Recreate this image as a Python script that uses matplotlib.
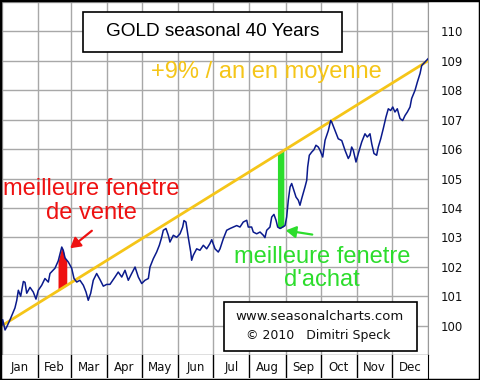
import numpy as np
import matplotlib
matplotlib.use("Agg")
import matplotlib.pyplot as plt
from matplotlib.patches import Rectangle, FancyArrowPatch

# seasonal curve, day of year vs index value
days = [0, 0.6, 2.6, 4.0, 6.9, 11.1, 12.6, 14.0, 16.0, 18.3, 19.7, 21.2, 24.0, 26.8, 29.1,
        31.1, 34.0, 36.8, 39.7, 41.1, 45.4, 48.2, 51.2, 52.5, 54.0, 56.8, 59.7, 61.7, 64.0,
        66.8, 69.7, 72.0, 73.9, 76.0, 78.2, 81.1, 84.0, 86.8, 89.7, 92.5, 96.8, 99.6, 102.6,
        105.4, 108.2, 111.1, 114.0, 116.8, 119.7, 122.5, 125.4, 126.8, 129.6, 132.5, 134.8,
        136.8, 138.2, 140.5, 142.5, 143.9, 146.8, 149.7, 152.5, 154.8, 155.9, 157.6, 159.6,
        161.7, 162.5, 163.9, 166.8, 169.6, 172.5, 175.4, 178.2, 179.7, 182.5, 185.3, 186.8,
        189.6, 192.5, 195.4, 198.2, 201.1, 203.9, 206.7, 209.7, 211.0, 213.9, 215.3, 218.2,
        221.1, 223.9, 225.3, 226.8, 229.6, 231.1, 233.0, 234.8, 236.2, 238.2, 240.5, 242.5,
        243.9, 245.3, 246.8, 248.2, 249.6, 251.9, 253.9, 255.3, 256.8, 259.6, 261.1, 261.9,
        263.3, 265.4, 267.3, 269.0, 271.0, 272.5, 274.8, 276.8, 279.6, 281.6, 282.5, 285.3,
        288.1, 291.1, 293.9, 296.7, 298.2, 299.6, 301.0, 303.3, 305.3, 308.2, 311.0, 313.0,
        315.3, 316.8, 318.7, 321.0, 322.4, 324.5, 326.7, 329.0, 331.0, 333.0, 334.8, 336.7,
        338.7, 341.0, 343.3, 345.3, 347.3, 349.6, 351.0, 353.9, 355.9, 358.2, 359.6, 361.0,
        363.3, 365.0]
values = [100.0, 100.2, 99.85, 99.95, 100.2, 100.6, 100.85, 101.2, 101.0, 101.5, 101.47, 101.1,
          101.3, 101.14, 100.9, 101.2, 101.37, 101.6, 101.48, 101.77, 101.95, 102.2, 102.67,
          102.56, 102.3, 102.16, 101.95, 101.6, 101.48, 101.54, 101.37, 101.14, 100.86, 101.1,
          101.54, 101.77, 101.56, 101.34, 101.4, 101.4, 101.65, 101.82, 101.65, 101.88, 101.54,
          101.77, 101.99, 101.65, 101.43, 101.54, 101.6, 101.99, 102.27, 102.5, 102.73, 103.0,
          103.24, 103.3, 103.07, 102.84, 103.07, 103.0, 103.12, 103.35, 103.57, 103.52, 103.0,
          102.5, 102.22, 102.39, 102.61, 102.56, 102.73, 102.61, 102.79, 102.92, 102.61, 102.5,
          102.61, 102.95, 103.24, 103.3, 103.35, 103.4, 103.35, 103.52, 103.58, 103.35, 103.35,
          103.18, 103.12, 103.18, 103.07, 102.99, 103.24, 103.35, 103.69, 103.78, 103.58,
          103.35, 103.3, 103.35, 103.4, 103.69, 104.26, 104.71, 104.83, 104.66, 104.37, 104.26,
          104.09, 104.32, 104.71, 104.94, 105.39, 105.79, 105.9, 105.98, 106.13, 106.07, 105.96,
          105.73, 106.3, 106.63, 106.97, 106.92, 106.63, 106.35, 106.29, 105.96, 105.68, 105.79,
          106.07, 105.96, 105.56, 105.85, 106.24, 106.52, 106.41, 106.52, 106.18, 105.85,
          105.79, 106.07, 106.35, 106.7, 107.09, 107.37, 107.31, 107.43, 107.26, 107.37,
          107.04, 106.97, 107.14, 107.26, 107.43, 107.72, 108.0, 108.28, 108.57, 108.84,
          108.9, 109.0, 109.07]

trend_days = [0, 365]
trend_values = [100, 109]

sell_window = [48, 55.5]
buy_window = [236, 241.5]

month_edges = [0, 31, 59, 90, 120, 151, 181, 212, 243, 273, 304, 334, 365]
month_labels = ["Jan", "Feb", "Mar", "Apr", "May", "Jun", "Jul", "Aug", "Sep", "Oct", "Nov", "Dec"]
y_ticks = list(range(100, 111))

W, H = 480, 380
GOLD = "#F5C518"
RED = "#EE1111"
GREEN = "#2CDD2C"
NAVY = "#0A1A8C"


def px(x, y):
    return x / W, 1 - y / H


fig = plt.figure(figsize=(W / 100, H / 100), dpi=100)
fig.patch.set_facecolor("white")

ax = fig.add_axes([2 / W, 25 / H, 426 / W, 353 / H])
ax.set_xlim(0, 365)
ax.set_ylim(99, 111)
ax.set_xticks(month_edges)
ax.set_yticks(range(99, 112))
ax.set_yticklabels(["" if v not in y_ticks else str(v) for v in range(99, 112)])
ax.tick_params(axis="x", length=0, labelbottom=False)
ax.yaxis.tick_right()
ax.tick_params(axis="y", length=0, pad=9, labelsize=8.5, labelcolor="#111111")
ax.grid(True, color="#A8A8A8", linewidth=1)
ax.set_axisbelow(True)
for side in ["left", "top"]:
    ax.spines[side].set_visible(False)
ax.spines["right"].set_color("#999999")
ax.spines["bottom"].set_color("black")

# trend line and seasonal curve
ax.plot(trend_days, trend_values, color=GOLD, linewidth=2, zorder=3)
ax.plot(days, values, color=NAVY, linewidth=1.1, zorder=4)


def trend_at(d):
    return np.interp(d, trend_days, trend_values)


xs = np.linspace(sell_window[0], sell_window[1], 40)
ax.fill_between(xs, trend_at(xs), np.interp(xs, days, values), color=RED, linewidth=0, zorder=2)
xs = np.linspace(buy_window[0], buy_window[1], 40)
ax.fill_between(xs, np.interp(xs, days, values), trend_at(xs), color=GREEN, linewidth=0, zorder=2)

# month band
mx = fig.add_axes([2 / W, 2 / H, 426 / W, 23 / H])
mx.set_xlim(0, 365)
mx.set_ylim(0, 1)
mx.set_xticks([])
mx.set_yticks([])
for e in month_edges[1:-1]:
    mx.axvline(e, color="black", linewidth=1)
for i, lab in enumerate(month_labels):
    mx.text((month_edges[i] + month_edges[i + 1]) / 2, 0.45, lab, ha="center", va="center",
            fontsize=8.5, color="#111111")
for side in ["left", "bottom", "top"]:
    mx.spines[side].set_visible(False)
mx.spines["right"].set_color("black")

# boxes
fig.patches.append(Rectangle(px(83, 52), 259 / W, 40 / H, transform=fig.transFigure,
                             facecolor="white", edgecolor="black", linewidth=1.2))
fig.patches.append(Rectangle(px(224, 351), 193 / W, 49 / H, transform=fig.transFigure,
                             facecolor="white", edgecolor="black", linewidth=1.2))
fig.patches.append(Rectangle((0, 0), 1, 1, transform=fig.transFigure,
                             facecolor="none", edgecolor="black", linewidth=2.5))

arial = "Liberation Sans"
fig.text(*px(212.5, 32), "GOLD seasonal 40 Years", ha="center", va="center",
         fontsize=13.7, family=arial, color="black")
fig.text(*px(266, 72), "+9% / an en moyenne", ha="center", va="center",
         fontsize=17, family=arial, color=GOLD)
fig.text(*px(91, 201), "meilleure fenetre\nde vente", ha="center", va="center",
         fontsize=17, family=arial, color=RED, linespacing=1.15)
fig.text(*px(322, 268.5), "meilleure fenetre\nd'achat", ha="center", va="center",
         fontsize=17, family=arial, color=GREEN, linespacing=1.1)
fig.text(*px(320, 317), "www.seasonalcharts.com", ha="center", va="center",
         fontsize=9.5, color="#111111")
fig.text(*px(318, 336), "\u00a9 2010   Dimitri Speck", ha="center", va="center",
         fontsize=9, color="#111111")

# arrows
fig.add_artist(FancyArrowPatch(px(94, 229), px(68, 250), transform=fig.transFigure,
                               arrowstyle="-|>,head_length=6,head_width=3.5",
                               color=RED, linewidth=1.6))
fig.add_artist(FancyArrowPatch(px(315, 235), px(283, 230), transform=fig.transFigure,
                               arrowstyle="-|>,head_length=6,head_width=3.5",
                               color=GREEN, linewidth=1.6))

fig.savefig("out.png", dpi=100)
